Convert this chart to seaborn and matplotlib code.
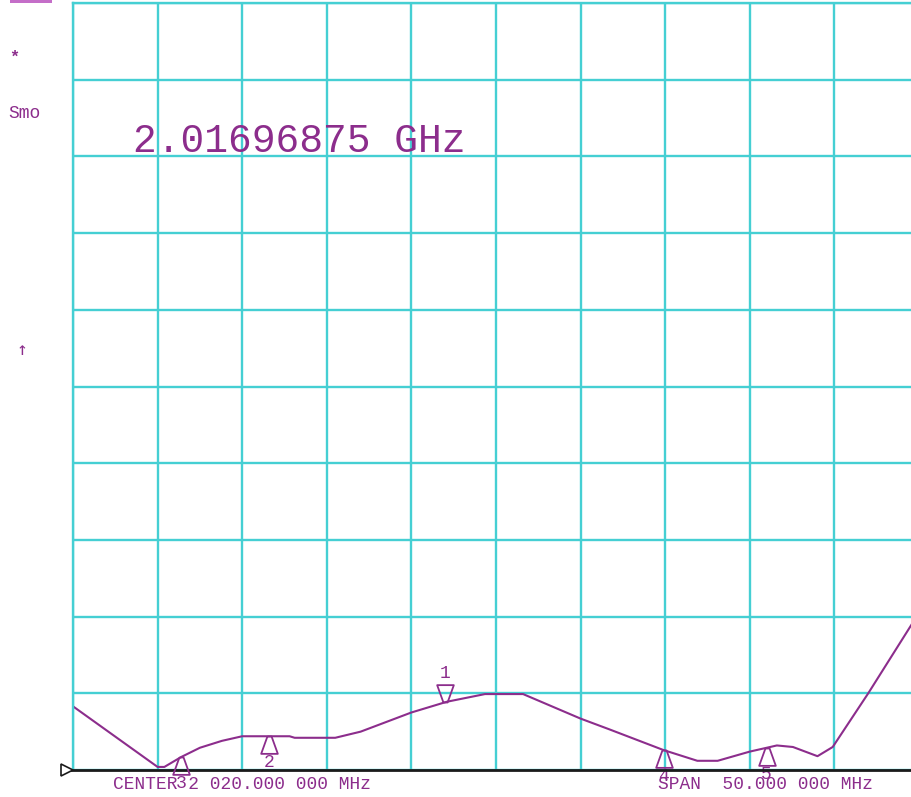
import numpy as np
import pandas as pd
import matplotlib
matplotlib.use("Agg")
import matplotlib.pyplot as plt
from matplotlib.patches import Rectangle
import seaborn as sns

# Swept response: frequency (MHz) and trace level in graticule divisions
freq_mhz = [1995.0, 2000.0, 2000.4, 2001.4, 2002.5, 2003.8, 2005.0, 2007.8, 2008.1, 2010.5,
            2012.0, 2015.0, 2017.1, 2019.35, 2021.6, 2025.0, 2026.7, 2029.9, 2031.9, 2033.1,
            2035.0, 2036.6, 2037.55, 2039.0, 2039.9, 2042.0, 2044.6, 2045.0]
level_div = [0.83, 0.04, 0.04, 0.17, 0.29, 0.38, 0.44, 0.44, 0.42, 0.42,
             0.50, 0.75, 0.89, 0.99, 0.99, 0.67, 0.53, 0.26, 0.12, 0.12,
             0.24, 0.32, 0.30, 0.18, 0.30, 1.00, 1.91, 2.06]

# Markers (marker 1 is the active one)
marker_freq_mhz = [2016.96875, 2006.6, 2001.4, 2029.9, 2036.0]
marker_names = ["1", "2", "3", "4", "5"]

center_mhz = 2020.0
span_mhz = 50.0
center_label = "CENTER 2 020.000 000 MHz"
span_label = "SPAN  50.000 000 MHz"
side_labels = ["*", "Smo", "\u2191"]

PURPLE = "#8c2d8c"
CYAN = "#45cfd3"
MONO = ["Liberation Mono", "DejaVu Sans Mono"]

sns.set_style("white")
plt.rcParams["font.family"] = MONO

W, H = 912, 797
fig = plt.figure(figsize=(W / 100, H / 100), dpi=100)
fig.patch.set_facecolor("white")

# graticule: 10 x 10 divisions
x0, x1, ytop, ybot = 73, 919, 3, 770
ax = fig.add_axes([x0 / W, 1 - ybot / H, (x1 - x0) / W, (ybot - ytop) / H])
ax.set_facecolor("white")

df = pd.DataFrame({"freq_mhz": freq_mhz, "level_div": level_div})
sns.lineplot(data=df, x="freq_mhz", y="level_div", color=PURPLE, lw=1.5, ax=ax)

ax.set_xlim(center_mhz - span_mhz / 2, center_mhz + span_mhz / 2)
ax.set_ylim(0, 10)
ax.set_xticks(np.linspace(center_mhz - span_mhz / 2, center_mhz + span_mhz / 2, 11))
ax.set_yticks(np.arange(0, 11, 1))
ax.tick_params(length=0, labelbottom=False, labelleft=False)
ax.set_xlabel("")
ax.set_ylabel("")
ax.grid(True, color=CYAN, lw=1.7)
ax.set_axisbelow(True)
for side in ["left", "top", "right"]:
    ax.spines[side].set_color(CYAN)
    ax.spines[side].set_linewidth(1.7)
ax.spines["bottom"].set_visible(False)

# baseline with reference-position arrow
ax.plot([-10 / (x1 - x0), 1], [0, 0], transform=ax.transAxes, color="#1a1a1a",
        lw=2.0, clip_on=False, zorder=5)
ax.plot([-6 / (x1 - x0)], [0], transform=ax.transAxes, marker=">", ms=8,
        mfc="white", mec="#1a1a1a", mew=1.2, clip_on=False, zorder=6)

# marker symbols sitting on the trace
up_tri = [(-0.12, 0), (0.12, 0), (0.48, -1), (-0.48, -1), (-0.12, 0)]
down_tri = [(x, -y) for x, y in up_tri]
marker_levels = np.interp(marker_freq_mhz, freq_mhz, level_div)
for i, (f, v, name) in enumerate(zip(marker_freq_mhz, marker_levels, marker_names)):
    if i == 0:
        ax.plot([f], [v], marker=down_tri, ms=25, mfc="none", mec=PURPLE, mew=1.3,
                ls="none", clip_on=False, zorder=7)
        ax.annotate(name, xy=(f, v), xytext=(0, 21), textcoords="offset points",
                    ha="center", va="center", color=PURPLE, fontsize=13,
                    annotation_clip=False)
    else:
        ax.plot([f], [v], marker=up_tri, ms=25, mfc="none", mec=PURPLE, mew=1.3,
                ls="none", clip_on=False, zorder=7)
        ax.annotate(name, xy=(f, v), xytext=(0, -19), textcoords="offset points",
                    ha="center", va="center", color=PURPLE, fontsize=13,
                    annotation_clip=False)

# active marker readout
ax.text((133 - x0) / (x1 - x0), (ybot - 152) / (ybot - ytop),
        f"{marker_freq_mhz[0] / 1000:.8f} GHz", transform=ax.transAxes,
        ha="left", va="baseline", color=PURPLE, fontsize=28.5)

# annotations below the graticule
fig.text(113 / W, 1 - 789 / H, center_label, ha="left", va="baseline",
         color=PURPLE, fontsize=12.9)
fig.text(658 / W, 1 - 789 / H, span_label, ha="left", va="baseline",
         color=PURPLE, fontsize=12.9)

# left-hand status column
fig.text(14 / W, 1 - 57 / H, side_labels[0], ha="center", va="center",
         color=PURPLE, fontsize=12, fontweight="bold")
fig.text(8 / W, 1 - 118 / H, side_labels[1], ha="left", va="baseline",
         color=PURPLE, fontsize=13)
fig.text(22 / W, 1 - 350 / H, side_labels[2], ha="center", va="center",
         color=PURPLE, fontsize=13, family=["DejaVu Sans Mono"])

fig.patches.append(Rectangle((10 / W, 1 - 3 / H), 42 / W, 3 / H,
                             transform=fig.transFigure, color="#c46ec8", lw=0))

fig.savefig("out.png", dpi=100)
